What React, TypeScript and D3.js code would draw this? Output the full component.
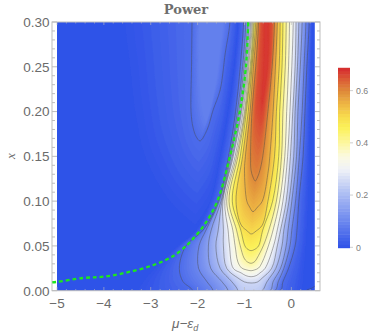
import * as d3 from "d3";
import { useEffect, useRef } from "react";

type Pt = [number, number];

// contour levels of the main ridge
const mainLevels = [0, 0.05, 0.1, 0.15, 0.2, 0.25, 0.3, 0.35, 0.4, 0.45, 0.5, 0.55, 0.6, 0.65, 0.675];

// rows of x where the arms were read
const rowsX = [0.3, 0.25, 0.2, 0.15, 0.1, 0.0678, 0.05, 0.025, 0.01, 0];
const rowArm = (mus: number[]): Pt[] => mus.map((m, i) => [m, rowsX[i]] as Pt);

// left arm of each contour, top to bottom, [mu, x]
const mainLeft: Pt[][] = [
  rowArm([-1.14, -1.22, -1.35, -1.52, -1.73, -2.03, -2.42, -2.91, -3.16, -3.27]),
  rowArm([-1.02, -1.09, -1.19, -1.34, -1.56, -1.88, -2.25, -2.39, -2.31, -2.1]),
  rowArm([-0.97, -1.04, -1.15, -1.31, -1.54, -1.82, -1.97, -1.98, -1.8, -1.67]),
  rowArm([-0.93, -1.01, -1.12, -1.29, -1.5, -1.71, -1.77, -1.72, -1.48, -1.35]),
  rowArm([-0.9, -0.98, -1.08, -1.26, -1.48, -1.56, -1.61, -1.52, -1.27, -1.14]),
  [...rowArm([-0.87, -0.95, -1.06, -1.24, -1.46, -1.45, -1.45, -1.38]), [-1.14, 0.0142], [-1.0, 0.0098], [-0.86, 0.0086]],
  [...rowArm([-0.85, -0.93, -1.03, -1.2, -1.42, -1.35, -1.32, -1.24]), [-1.07, 0.0198], [-0.97, 0.0168], [-0.86, 0.0156]],
  [...rowArm([-0.83, -0.91, -1.0, -1.17, -1.38, -1.25, -1.2]), [-1.14, 0.032], [-1.06, 0.0253], [-0.96, 0.0233], [-0.86, 0.0223]],
  [...rowArm([-0.81, -0.88, -0.98, -1.14, -1.33, -1.17, -1.09]), [-1.01, 0.0365], [-0.95, 0.0326], [-0.86, 0.0306]],
  [...rowArm([-0.79, -0.86, -0.96, -1.09, -1.26, -1.08, -0.99]), [-0.93, 0.0462], [-0.86, 0.0447]],
  [...rowArm([-0.76, -0.84, -0.92, -1.04, -1.18]), [-1.07, 0.0733], [-0.94, 0.0667], [-0.86, 0.0633]],
  [...rowArm([-0.73, -0.81, -0.88, -0.98]), [-1.0, 0.1347], [-0.95, 0.1], [-0.89, 0.0934], [-0.82, 0.0882]],
  [...rowArm([-0.7, -0.76, -0.84, -0.87]), [-0.86, 0.1347], [-0.82, 0.1269], [-0.77, 0.1225]],
  [...rowArm([-0.65, -0.7, -0.76]), [-0.73, 0.1883], [-0.67, 0.1794]],
  [[-0.56, 0.3], [-0.57, 0.25], [-0.62, 0.213]],
];

// right arm of each contour, top to bottom; closed ones end on the left arm's last point
const mainRight: Pt[][] = [
  rowArm([0.44, 0.42, 0.4, 0.38, 0.36, 0.33, 0.31, 0.27, 0.25, 0.23]),
  rowArm([0.38, 0.33, 0.29, 0.25, 0.16, 0.12, 0.08, -0.06, -0.18, -0.24]),
  rowArm([0.31, 0.27, 0.23, 0.17, 0.09, 0.01, -0.03, -0.16, -0.28, -0.35]),
  rowArm([0.23, 0.19, 0.14, 0.11, 0.01, -0.07, -0.11, -0.23, -0.39, -0.45]),
  rowArm([0.16, 0.13, 0.08, 0.05, -0.05, -0.16, -0.2, -0.33, -0.52, -0.62]),
  [...rowArm([0.1, 0.08, 0.03, -0.02, -0.11, -0.23, -0.3, -0.42]), [-0.62, 0.0142], [-0.72, 0.0098], [-0.86, 0.0086]],
  [...rowArm([0.04, 0.01, -0.03, -0.08, -0.18, -0.3, -0.38, -0.56]), [-0.67, 0.0198], [-0.75, 0.0168], [-0.86, 0.0156]],
  [...rowArm([-0.04, -0.06, -0.1, -0.14, -0.25, -0.39, -0.49]), [-0.62, 0.032], [-0.7, 0.0253], [-0.78, 0.0233], [-0.86, 0.0223]],
  [...rowArm([-0.11, -0.13, -0.18, -0.21, -0.32, -0.48, -0.6]), [-0.73, 0.0365], [-0.78, 0.0326], [-0.86, 0.0306]],
  [...rowArm([-0.18, -0.2, -0.25, -0.27, -0.4, -0.61, -0.7]), [-0.78, 0.0462], [-0.86, 0.0447]],
  [...rowArm([-0.24, -0.26, -0.32, -0.36, -0.5]), [-0.62, 0.0733], [-0.75, 0.0667], [-0.86, 0.0633]],
  [...rowArm([-0.3, -0.34, -0.39, -0.46]), [-0.49, 0.1347], [-0.62, 0.1], [-0.72, 0.0934], [-0.82, 0.0882]],
  [...rowArm([-0.36, -0.41, -0.5, -0.61]), [-0.67, 0.1347], [-0.72, 0.1269], [-0.77, 0.1225]],
  [...rowArm([-0.41, -0.45, -0.58]), [-0.61, 0.1883], [-0.67, 0.1794]],
  [[-0.5, 0.3], [-0.52, 0.25], [-0.62, 0.213]],
];

// the weak lobe left of the valley
const lobeLevels = [0, 0.05, 0.09];
const lobeLeft: Pt[][] = [
  [[-3.55, 0.3], [-3.44, 0.25], [-3.33, 0.2], [-3.12, 0.15], [-2.59, 0.1], [-2.05, 0.0733]],
  [[-2.12, 0.3], [-2.13, 0.25], [-2.14, 0.2], [-2.1, 0.1828], [-2.03, 0.172], [-1.95, 0.1672]],
  [[-1.95, 0.3], [-1.95, 0.25], [-1.88, 0.207], [-1.8, 0.1906]],
];
const lobeRight: Pt[][] = [
  [[-1.14, 0.3], [-1.22, 0.25], [-1.35, 0.2], [-1.52, 0.15], [-1.73, 0.1], [-2.05, 0.0733]],
  [[-1.31, 0.3], [-1.41, 0.2654], [-1.52, 0.224], [-1.67, 0.2017], [-1.8, 0.1794], [-1.95, 0.1672]],
  [[-1.48, 0.3], [-1.54, 0.2687], [-1.65, 0.224], [-1.8, 0.1906]],
];

// small contour in the lower right corner
const cornerLine: Pt[] = [[0.33, 0.001], [0.42, 0.0025], [0.5, 0.005]];

// dashed green curve
const greenMu = [-5.1, -5, -4.44, -4.01, -3.5, -2.94, -2.52, -2.27, -2.18, -1.86, -1.58, -1.31, -1.1, -0.97, -0.92];
const greenX = [0.0094, 0.0098, 0.0142, 0.0156, 0.0205, 0.0287, 0.0387, 0.0488, 0.0533, 0.0733, 0.1, 0.15, 0.2, 0.25, 0.3];

// colour function
const colorStops = [0, 0.1, 0.2, 0.3, 0.35, 0.4, 0.46, 0.5, 0.55, 0.6, 0.65, 0.68];
const colorValues = ["#2f52e8", "#6c87ee", "#a9baf3", "#f0f2f7", "#fbfae0", "#fdf7a0", "#fbf158", "#f8dd4e", "#eeb544", "#de8a3a", "#da5535", "#d6302f"];

const xTicks = [-5, -4, -3, -2, -1, 0];
const yTicks = [0, 0.05, 0.1, 0.15, 0.2, 0.25, 0.3];
const barTicks = [0, 0.2, 0.4, 0.6];

const SANS = "'Liberation Sans', Arimo, sans-serif";

export default function App() {
  const ref = useRef<SVGSVGElement>(null);

  useEffect(() => {
    const svg = d3.select(ref.current);
    svg.selectAll("*").remove();

    const scaleX = d3.scaleLinear().domain([-5, 0.5]).range([57, 314.8]);
    const scaleY = d3.scaleLinear().domain([0, 0.3]).range([290.7, 22]);
    const color = d3.scaleLinear<string>().domain(colorStops).range(colorValues).clamp(true);
    const lineGen = d3.line<Pt>().x(d => scaleX(d[0])).y(d => scaleY(d[1])).curve(d3.curveCatmullRom.alpha(0.5));

    const defs = svg.append("defs");
    defs.append("clipPath").attr("id", "plot").append("rect")
      .attr("x", 57).attr("y", 22).attr("width", 257.8).attr("height", 268.7);
    defs.append("filter").attr("id", "soft").append("feGaussianBlur").attr("stdDeviation", 0.5);

    // arms run past the top and bottom of the plot so the fills close out of sight
    const extend = (arm: Pt[]): Pt[] => {
      const out: Pt[] = [[arm[0][0], 0.34], ...arm];
      const last = arm[arm.length - 1];
      if (last[1] === 0) out.push([last[0], -0.02]);
      return out;
    };

    const probe = svg.append("path").attr("fill", "none");
    const sample = (arm: Pt[], n: number): [number, number][] => {
      probe.attr("d", lineGen(extend(arm)));
      const node = probe.node() as SVGPathElement;
      const len = node.getTotalLength();
      return d3.range(n).map(i => {
        const p = node.getPointAtLength((len * i) / (n - 1));
        return [p.x, p.y];
      });
    };

    const field = svg.append("g").attr("clip-path", "url(#plot)");
    const heat = field.append("g").attr("filter", "url(#soft)");
    heat.append("rect").attr("x", 50).attr("y", 15).attr("width", 280).attr("height", 285).attr("fill", color(0));

    // fills: shade between neighbouring contours
    const drawFamily = (levels: number[], left: Pt[][], right: Pt[][]) => {
      const N = 120;
      const ls = left.map(a => sample(a, N));
      const rs = right.map(a => sample(a, N));
      levels.forEach((v, i) => {
        if (i === levels.length - 1) return;
        const next = levels[i + 1];
        const steps = 8;
        d3.range(steps).forEach(k => {
          const t = k / steps;
          const mix = (a: [number, number], b: [number, number]): [number, number] => [a[0] + (b[0] - a[0]) * t, a[1] + (b[1] - a[1]) * t];
          const lp = ls[i].map((p, j) => mix(p, ls[i + 1][j]));
          const rp = rs[i].map((p, j) => mix(p, rs[i + 1][j]));
          const poly = [...lp, ...rp.reverse()];
          const fill = color(v + (next - v) * (t + 0.5 / steps));
          heat.append("path")
            .attr("d", "M" + poly.map(p => p[0].toFixed(2) + "," + p[1].toFixed(2)).join("L") + "Z")
            .attr("fill", fill)
            .attr("stroke", fill)
            .attr("stroke-width", 0.3);
        });
      });
    };
    drawFamily(lobeLevels, lobeLeft, lobeRight);
    drawFamily(mainLevels, mainLeft, mainRight);
    probe.remove();

    // contour lines
    const lines = field.append("g").attr("fill", "none").attr("stroke", "#4a4a4a").attr("stroke-opacity", 0.5).attr("stroke-width", 0.9).attr("filter", "url(#soft)");
    mainLevels.forEach((v, i) => {
      if (v === 0 || v > 0.6) return;
      const ring: Pt[] = [...extend(mainLeft[i]), ...extend(mainRight[i]).reverse().slice(1)];
      lines.append("path").attr("d", lineGen(ring));
    });
    const lobeRing: Pt[] = [...extend(lobeLeft[1]), ...extend(lobeRight[1]).reverse().slice(1)];
    lines.append("path").attr("d", lineGen(lobeRing));
    lines.append("path").attr("d", lineGen(cornerLine));

    // frame and ticks
    const frame = svg.append("g").attr("stroke", "#bdbdbd").attr("stroke-width", 1).attr("fill", "none");
    frame.append("rect").attr("x", 52).attr("y", 22).attr("width", 268).attr("height", 268.7);
    d3.range(0, 30.5).forEach(i => {
      const v = i / 100;
      const major = i % 5 === 0;
      const y = scaleY(v);
      frame.append("line").attr("x1", 52).attr("x2", major ? 57 : 55).attr("y1", y).attr("y2", y);
      frame.append("line").attr("x1", 320).attr("x2", major ? 315 : 317).attr("y1", y).attr("y2", y);
    });
    d3.range(-25, 3).forEach(i => {
      const v = i / 5;
      const major = i % 5 === 0;
      const x = scaleX(v);
      frame.append("line").attr("x1", x).attr("x2", x).attr("y1", 290.7).attr("y2", major ? 287 : 289).attr("stroke-opacity", 0.6);
      frame.append("line").attr("x1", x).attr("x2", x).attr("y1", 22).attr("y2", major ? 25 : 23.5).attr("stroke-opacity", 0.6);
    });

    // green dashed curve
    const green: Pt[] = greenMu.map((m, i) => [m, greenX[i]] as Pt);
    svg.append("path")
      .attr("d", lineGen(green))
      .attr("fill", "none")
      .attr("stroke", "#1ce81c")
      .attr("stroke-width", 2.3)
      .attr("stroke-dasharray", "3.8 3");

    // tick labels
    const labels = svg.append("g").attr("font-family", SANS).attr("font-size", 13.5).attr("fill", "#6b6b6b");
    yTicks.forEach(v => {
      labels.append("text").attr("x", 49.5).attr("y", scaleY(v) + 4.8).attr("text-anchor", "end").text(v.toFixed(2));
    });
    xTicks.forEach(v => {
      labels.append("text").attr("x", scaleX(v)).attr("y", 307.5).attr("text-anchor", "middle").text(v < 0 ? "\u2212" + Math.abs(v) : String(v));
    });

    // axis titles
    svg.append("text")
      .attr("transform", "translate(14.5,156) rotate(-90)")
      .attr("text-anchor", "middle")
      .attr("font-family", "'Liberation Serif', serif")
      .attr("font-style", "italic")
      .attr("font-size", 13)
      .attr("fill", "#6b6b6b")
      .text("x");

    const xTitle = svg.append("text")
      .attr("x", 172)
      .attr("y", 328)
      .attr("font-family", SANS)
      .attr("font-style", "italic")
      .attr("font-size", 13.5)
      .attr("fill", "#6b6b6b");
    xTitle.append("tspan").text("\u03bc\u2212\u03b5");
    xTitle.append("tspan").attr("dy", 2.5).attr("font-size", 9).text("d");

    svg.append("text")
      .attr("x", 186)
      .attr("y", 14)
      .attr("text-anchor", "middle")
      .attr("font-family", "'DejaVu Serif', serif")
      .attr("font-weight", "bold")
      .attr("font-size", 13)
      .attr("fill", "#6e6e6e")
      .text("Power");

    // colour bar
    const barY = d3.scaleLinear().domain([0, 0.679]).range([247.3, 70]);
    const barBands = d3.range(0, 0.679, 0.0125);
    const bar = svg.append("g");
    bar.selectAll("rect").data(barBands).enter().append("rect")
      .attr("x", 338)
      .attr("width", 12)
      .attr("y", d => barY(d + 0.0125))
      .attr("height", d => barY(d) - barY(d + 0.0125) + 0.5)
      .attr("fill", d => color(d + 0.00625));
    bar.append("rect").attr("x", 338).attr("width", 12).attr("y", 247).attr("height", 1.2).attr("fill", color(0));
    barTicks.forEach(v => {
      bar.append("line").attr("x1", 350).attr("x2", 353).attr("y1", barY(v)).attr("y2", barY(v)).attr("stroke", "#cfcfcf");
      bar.append("text")
        .attr("x", 356)
        .attr("y", barY(v) + 3.2)
        .attr("font-family", SANS)
        .attr("font-size", 8.8)
        .attr("fill", "#808080")
        .text(v === 0 ? "0" : v.toFixed(1));
    });
  }, []);

  return <svg ref={ref} width={374} height={333} style={{ position: "absolute", left: 0, top: 0, display: "block" }} />;
}
